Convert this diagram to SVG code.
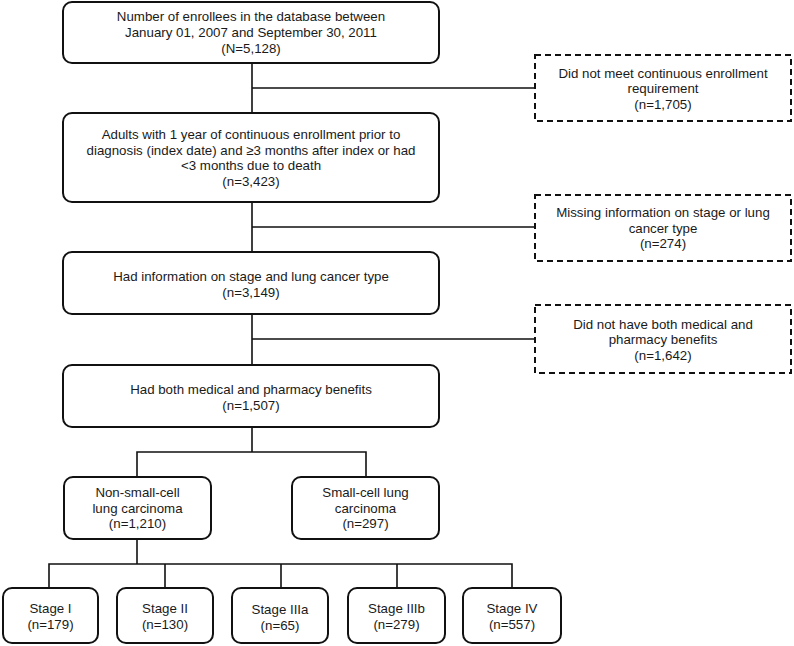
<svg xmlns="http://www.w3.org/2000/svg" width="794" height="646" viewBox="0 0 794 646">
<style>
.box{fill:#fff;stroke:#111;stroke-width:2}
.dash{fill:#fff;stroke:#111;stroke-width:2;stroke-dasharray:6 4}
.ln{fill:none;stroke:#111;stroke-width:1.6}
text{font-family:"Liberation Sans",Arial,sans-serif;font-size:13.3px;fill:#1a1a1a;text-anchor:middle}
</style>
<rect width="794" height="646" fill="#fff"/>
<g id="connectors">
<path class="ln" d="M252,63V113M252,202V252M252,314V365M252,427V452"/>
<path class="ln" d="M252,88H535M252,227H535M252,339H535"/>
<path class="ln" d="M137,477V452H366V477"/>
<path class="ln" d="M137,539V564M49,588V564H512V588M165,564V588M281,564V588M397,564V588"/>
</g>
<g id="n1"><rect class="box" x="63" y="2" width="376" height="61" rx="9"/>
<text x="251" y="21">Number of enrollees in the database between</text>
<text x="251" y="37">January 01, 2007 and September 30, 2011</text>
<text x="251" y="53">(N=5,128)</text></g>
<g id="x1"><rect class="dash" x="535" y="55" width="256" height="66"/>
<text x="663" y="77.5">Did not meet continuous enrollment</text>
<text x="663" y="93">requirement</text>
<text x="663" y="108.5">(n=1,705)</text></g>
<g id="n2"><rect class="box" x="63" y="113" width="376" height="89" rx="9"/>
<text x="251" y="139">Adults with 1 year of continuous enrollment prior to</text>
<text x="251" y="154.5">diagnosis (index date) and ≥3 months after index or had</text>
<text x="251" y="170">&lt;3 months due to death</text>
<text x="251" y="185.5">(n=3,423)</text></g>
<g id="x2"><rect class="dash" x="535" y="195" width="256" height="66"/>
<text x="663" y="217">Missing information on stage or lung</text>
<text x="663" y="232.5">cancer type</text>
<text x="663" y="248">(n=274)</text></g>
<g id="n3"><rect class="box" x="63" y="252" width="376" height="62" rx="9"/>
<text x="251" y="281">Had information on stage and lung cancer type</text>
<text x="251" y="296.5">(n=3,149)</text></g>
<g id="x3"><rect class="dash" x="535" y="305" width="256" height="68"/>
<text x="663" y="328.5">Did not have both medical and</text>
<text x="663" y="344">pharmacy benefits</text>
<text x="663" y="359.5">(n=1,642)</text></g>
<g id="n4"><rect class="box" x="63" y="365" width="376" height="62" rx="9"/>
<text x="251" y="393.5">Had both medical and pharmacy benefits</text>
<text x="251" y="409.5">(n=1,507)</text></g>
<g id="nsclc"><rect class="box" x="64" y="477" width="147" height="62" rx="9"/>
<text x="137.5" y="496.5">Non-small-cell</text>
<text x="137.5" y="512.5">lung carcinoma</text>
<text x="137.5" y="528">(n=1,210)</text></g>
<g id="sclc"><rect class="box" x="292" y="477" width="147" height="62" rx="9"/>
<text x="365.5" y="496.5">Small-cell lung</text>
<text x="365.5" y="512.5">carcinoma</text>
<text x="365.5" y="528">(n=297)</text></g>
<g id="s1"><rect class="box" x="3" y="588" width="95" height="55" rx="9"/>
<text x="50.5" y="612.5">Stage I</text><text x="50.5" y="628.5">(n=179)</text></g>
<g id="s2"><rect class="box" x="117" y="588" width="96" height="55" rx="9"/>
<text x="165" y="612.5">Stage II</text><text x="165" y="628.5">(n=130)</text></g>
<g id="s3a"><rect class="box" x="232" y="588" width="96" height="55" rx="9"/>
<text x="280" y="614">Stage IIIa</text><text x="280" y="630">(n=65)</text></g>
<g id="s3b"><rect class="box" x="348" y="588" width="97" height="55" rx="9"/>
<text x="396.5" y="612.5">Stage IIIb</text><text x="396.5" y="628.5">(n=279)</text></g>
<g id="s4"><rect class="box" x="463" y="588" width="98" height="55" rx="9"/>
<text x="512" y="612.5">Stage IV</text><text x="512" y="628.5">(n=557)</text></g>
</svg>
